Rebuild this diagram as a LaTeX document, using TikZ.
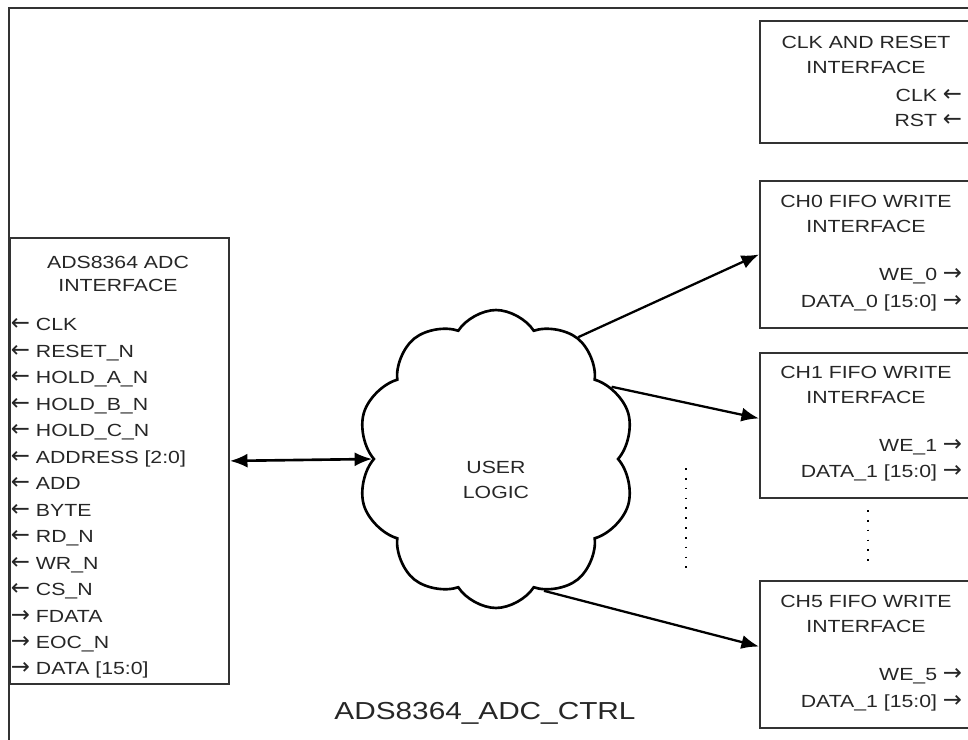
\documentclass[tikz,border=0pt]{standalone}
\usepackage{fontspec}
\setmainfont{Liberation Sans}[FakeStretch=1.21]
\newfontfamily\arrowfont{DejaVu Sans}
\usetikzlibrary{positioning,shapes,arrows,arrows.meta}
\definecolor{lineGrey}{gray}{0.2}
\definecolor{textGrey}{gray}{0.15}
\newcommand*{\inArr}{{\arrowfont\fontsize{13}{13}\selectfont ←}}
\newcommand*{\outArr}{{\arrowfont\fontsize{13}{13}\selectfont →}}

\begin{document}
\begin{tikzpicture}[x=0.02cm, y=-0.02cm, line width=1pt, >={Latex[length=10pt,width=8pt]},
    box/.style={draw=lineGrey, line width=1.1pt, inner sep=0pt, anchor=north west},
    title/.style={font=\fontsize{10}{14}\selectfont, text=textGrey, align=center, inner sep=0pt},
    sig/.style={font=\fontsize{10}{12}\selectfont, text=textGrey, inner sep=0pt},
    link/.style={->, line width=1.3pt},
    dots/.style={dash pattern=on 1pt off 4.6pt, line width=1pt}]
    \useasboundingbox (0,0) rectangle (968,740);
    \clip (0,0) rectangle (968,740);

    % outer frame, cut off on the right and at the bottom
    \draw[lineGrey, line width=1.1pt] (9,760) -- (9,8) -- (990,8);

    % ADC side
    \node[box, minimum width=4.38cm, minimum height=8.92cm] (adc) at (9,237) {};
    \node[title, font=\fontsize{10}{13.6}\selectfont] (adcTitle) at (118,274) {ADS8364 ADC\\INTERFACE};
    \foreach \s [count=\i from 0] in {\inArr\ CLK, \inArr\ RESET\_N, \inArr\ HOLD\_A\_N, \inArr\ HOLD\_B\_N,
        \inArr\ HOLD\_C\_N, \inArr\ ADDRESS [2:0], \inArr\ ADD, \inArr\ BYTE, \inArr\ RD\_N, \inArr\ WR\_N,
        \inArr\ CS\_N, \outArr\ FDATA, \outArr\ EOC\_N, \outArr\ DATA [15:0]}
        \node[sig, anchor=base west] (adcSig\i) at (10, 331+26.46*\i) {\s};

    % right side interfaces
    \node[box, minimum width=4.8cm, minimum height=2.44cm] (clkRst) at (759,20) {};
    \node[title] (clkRstTitle) at (866,55) {CLK AND RESET\\INTERFACE};
    \node[sig, anchor=base east] (clkSig) at (963,102) {CLK \inArr};
    \node[sig, anchor=base east] (rstSig) at (963,127) {RST \inArr};

    \node[box, minimum width=4.8cm, minimum height=2.94cm] (ch0) at (759,180) {};
    \node[title] (ch0Title) at (866,214) {CH0 FIFO WRITE\\INTERFACE};
    \node[sig, anchor=base east] (ch0We) at (963,280) {WE\_0 \outArr};
    \node[sig, anchor=base east] (ch0Data) at (963,307) {DATA\_0 [15:0] \outArr};

    \node[box, minimum width=4.8cm, minimum height=2.9cm] (ch1) at (759,352) {};
    \node[title] (ch1Title) at (866,385) {CH1 FIFO WRITE\\INTERFACE};
    \node[sig, anchor=base east] (ch1We) at (963,451) {WE\_1 \outArr};
    \node[sig, anchor=base east] (ch1Data) at (963,477) {DATA\_1 [15:0] \outArr};

    \node[box, minimum width=4.8cm, minimum height=2.94cm] (ch5) at (759,580) {};
    \node[title] (ch5Title) at (866,614) {CH5 FIFO WRITE\\INTERFACE};
    \node[sig, anchor=base east] (ch5We) at (963,680) {WE\_5 \outArr};
    \node[sig, anchor=base east] (ch5Data) at (963,707) {DATA\_1 [15:0] \outArr};

    % user logic
    \node[cloud, draw=black, line width=1.5pt, cloud puffs=10, cloud puff arc=115, aspect=0.93,
        minimum width=5.56cm, minimum height=5.96cm] (userLogic) at (496,459) {};
    \node[title] (userText) at (496,480) {USER\\LOGIC};

    \node[font=\fontsize{14}{16}\selectfont, text=textGrey, inner sep=0pt] (ctrlLabel) at (485,713) {ADS8364\_ADC\_CTRL};

    \draw[dots] (686,468) -- (686,573);
    \draw[dots] (868,510) -- (868,563);

    \draw[<->, line width=1.5pt] (adc.east) -- (userLogic.west);
    \draw[link] (userLogic.56) -- (ch0.west);
    \draw[link] (userLogic.32) -- ([yshift=4pt]ch1.west);
    \draw[link] (userLogic.-70) -- ([yshift=4.5pt]ch5.west);
\end{tikzpicture}
\end{document}
